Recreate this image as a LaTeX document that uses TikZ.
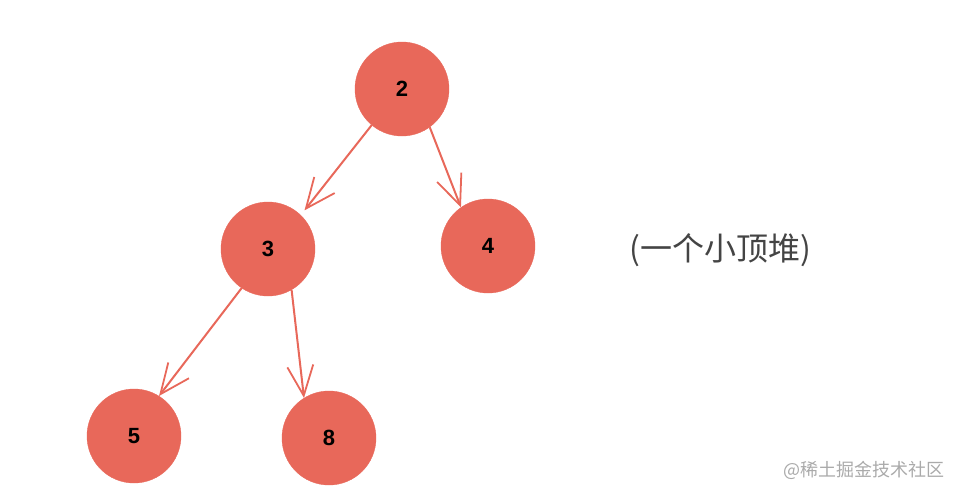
\documentclass[tikz,border=0pt]{standalone}
\usepackage{fontspec}
\setmainfont{Liberation Sans}
\newfontfamily\cjk{Noto Sans CJK SC}
\usetikzlibrary{arrows.meta}
\definecolor{heapred}{HTML}{E8685A}
\definecolor{labelgray}{HTML}{444444}
\definecolor{markgray}{HTML}{AAAAAA}

\begin{document}
\begin{tikzpicture}
	[
		x=1pt, y=-1pt,
		H/.style = {circle, minimum size=94pt, inner sep=0pt, draw=heapred, fill=heapred, font=\fontsize{22}{24}\selectfont\bfseries},
		E/.style = {draw=heapred, line width=2pt, -{Straight Barb[length=30pt,width=26pt,line width=1.8pt]}},
	]
	\useasboundingbox (0,0) rectangle (960,498);

	% heap nodes
	\node[H] (n2) 	at ( 402,  89 ) {2};
	\node[H] (n3) 	at ( 268, 249 ) {3};
	\node[H] (n4) 	at ( 488, 246 ) {4};
	\node[H] (n5) 	at ( 134, 436 ) {5};
	\node[H] (n8) 	at ( 329, 438 ) {8};

	% caption and mark
	\node[text=labelgray, font=\cjk\fontsize{32}{36}\selectfont] (cap) 	at ( 720, 250 ) {(一个小顶堆)};
	\node[text=markgray, font=\cjk\fontsize{18}{20}\selectfont] (mark) 	at ( 864, 470 ) {@稀土掘金技术社区};

	\foreach \from/\a/\to/\b/\gap in {n2/-130/n3/46/6,n2/-54/n4/125/0,n3/-124/n5/58/0,n3/-60/n8/122/0}
	\draw[E, shorten >=\gap pt] (\from.\a) -- (\to.\b);

\end{tikzpicture}
\end{document}
